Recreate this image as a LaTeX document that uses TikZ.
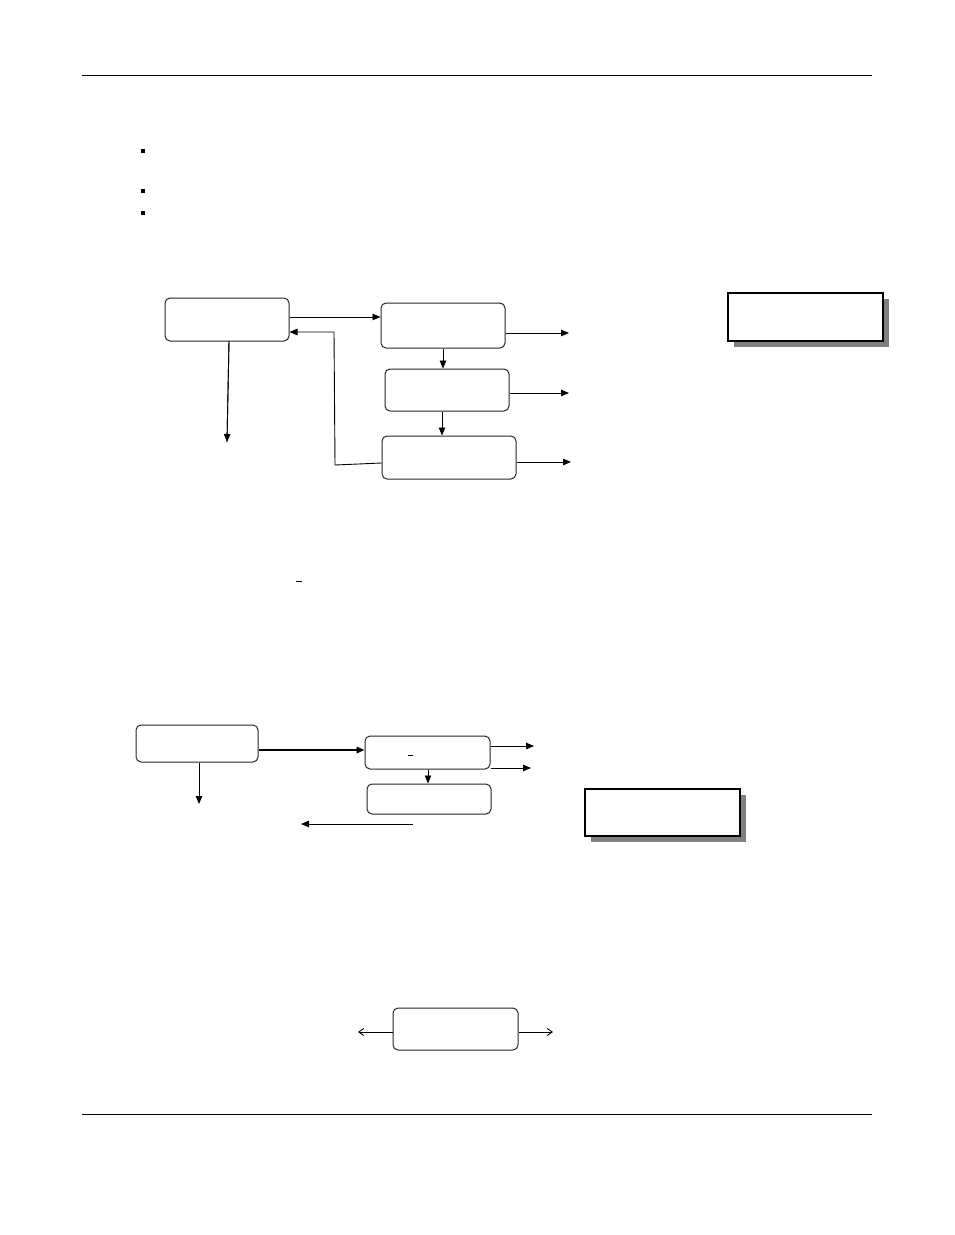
\documentclass[tikz,border=0pt]{standalone}
\usetikzlibrary{arrows.meta,shadows}
\begin{document}
\begin{tikzpicture}[x=1pt,y=-1pt,
  box/.style={draw=black!85, line width=1pt, rounded corners=5pt, inner sep=0pt, fill=white},
  sbox/.style={draw=black, line width=1.3pt, inner sep=0pt, fill=white,
    drop shadow={shadow xshift=5.5pt, shadow yshift=-5.5pt, fill=black!50, opacity=1}},
  arr/.style={line width=0.9pt, -{Triangle[length=8pt,width=6.5pt]}},
  oarr/.style={line width=0.9pt, -{Straight Barb[length=5pt,width=7pt]}},
  rule/.style={line width=0.8pt},
  bullet/.style={fill=black, inner sep=0pt, minimum size=4pt}]
\useasboundingbox (0,0) rectangle (954,1235);
% rules
\coordinate (r1a) at (82,75); \coordinate (r1b) at (872,75);
\coordinate (r2a) at (82,1114); \coordinate (r2b) at (872,1114);
\draw[rule] (r1a) -- (r1b);
\draw[rule] (r2a) -- (r2b);
% bullets
\node[bullet] (b1) at (143,150.5) {};
\node[bullet] (b2) at (143,191) {};
\node[bullet] (b3) at (143,213) {};
% diagram 1
\node[box, minimum width=124pt, minimum height=43pt] (A) at (227,319.5) {};
\node[box, minimum width=124pt, minimum height=45pt] (B) at (443,325.5) {};
\node[box, minimum width=124pt, minimum height=42pt] (C) at (447,390) {};
\node[box, minimum width=134pt, minimum height=43pt] (D) at (449,457.5) {};
\node[sbox, minimum width=155pt, minimum height=48pt] (S1) at (805.5,317) {};
\coordinate (Adown) at (227,442);
\coordinate (Bout) at (569,333);
\coordinate (Cout) at (569,393);
\coordinate (Dout) at (571,462);
\coordinate (bk1) at (335,465);
\coordinate (bk2) at (334,332);
\draw[arr] (A.east |- 0,317) -- (B.west |- 0,317);
\draw[line width=0.9pt] (229,341) -- (Adown);
\draw[arr] (A.south -| 229,0) -- (Adown);
\draw[arr] (B.south -| 443,0) -- (C.north -| 443,0);
\draw[arr] (C.south -| 442,0) -- (D.north -| 442,0);
\draw[arr] (B.east |- Bout) -- (Bout);
\draw[arr] (C.east |- Cout) -- (Cout);
\draw[arr] (D.east |- Dout) -- (Dout);
\draw[arr] (D.west |- 0,463) -- (bk1) -- (bk2) -- (A.east |- bk2);
\coordinate (dash1a) at (296,581); \coordinate (dash1b) at (302,581);
\draw[line width=0.8pt] (dash1a) -- (dash1b);
% diagram 2
\node[box, minimum width=122pt, minimum height=37pt] (E) at (197,743.5) {};
\node[box, minimum width=125pt, minimum height=33pt] (F) at (427.5,752.5) {};
\node[box, minimum width=124pt, minimum height=30pt] (G) at (429,799) {};
\node[sbox, minimum width=155pt, minimum height=47pt] (S2) at (662.5,812.5) {};
\coordinate (Edown) at (199,804);
\coordinate (Fout1) at (534,746);
\coordinate (Fout2) at (531,768);
\coordinate (Lst) at (413,824);
\coordinate (Lend) at (301,824);
\draw[line width=1.8pt, -{Triangle[length=8pt,width=6.5pt]}] (E.east |- 0,750) -- (F.west |- 0,750);
\draw[arr] (E.south -| Edown) -- (Edown);
\draw[arr] (F.east |- Fout1) -- (Fout1);
\draw[arr] (F.east |- Fout2) -- (Fout2);
\draw[arr] (F.south -| 428,0) -- (G.north -| 428,0);
\draw[arr] (Lst) -- (Lend);
\coordinate (dash2a) at (408,755); \coordinate (dash2b) at (413,755);
\draw[line width=0.8pt] (dash2a) -- (dash2b);
% diagram 3
\node[box, minimum width=125pt, minimum height=42pt] (H) at (455.5,1029) {};
\coordinate (Hl) at (358,1032);
\coordinate (Hr) at (553,1032);
\draw[oarr] (H.west |- Hl) -- (Hl);
\draw[oarr] (H.east |- Hr) -- (Hr);
\end{tikzpicture}
\end{document}
